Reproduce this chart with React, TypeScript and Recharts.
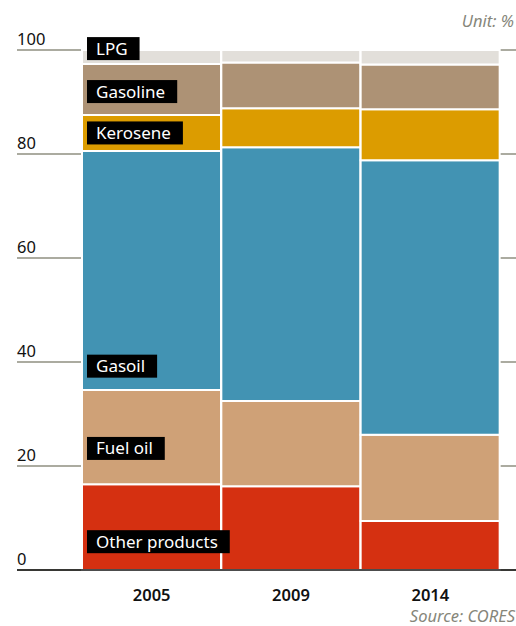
import { Bar, BarChart, CartesianGrid, XAxis, YAxis } from 'recharts';

const YEARS = ['2005', '2009', '2014'];
const OTHER_PRODUCTS = [16.5, 16.1, 9.4];
const FUEL_OIL = [18.1, 16.4, 16.6];
const GASOIL = [46.0, 48.8, 52.8];
const KEROSENE = [6.9, 7.5, 9.8];
const GASOLINE = [9.8, 8.8, 8.6];
const LPG = [2.7, 2.4, 2.8];
const Y_TICKS = [0, 20, 40, 60, 80, 100];

const FONT = "'Noto Sans', sans-serif";
const GREY = '#86867a';
const LEFT = 17;

// bottom to top; labelAt = where the label box centre sits inside the 2005 segment
const SERIES = [
  { key: 'other', name: 'Other products', values: OTHER_PRODUCTS, color: '#d53011', labelAt: 0.67 },
  { key: 'fuel', name: 'Fuel oil', values: FUEL_OIL, color: '#cfa177', labelAt: 0.62 },
  { key: 'gasoil', name: 'Gasoil', values: GASOIL, color: '#4293b3', labelAt: 0.9 },
  { key: 'kerosene', name: 'Kerosene', values: KEROSENE, color: '#dc9c00', labelAt: 0.5 },
  { key: 'gasoline', name: 'Gasoline', values: GASOLINE, color: '#ad9275', labelAt: 0.54 },
  { key: 'lpg', name: 'LPG', values: LPG, color: '#e2dfda', labelAt: -0.1 },
];

const data = YEARS.map((year, i) => {
  const row: Record<string, string | number> = { year };
  SERIES.forEach((s) => {
    row[s.key] = s.values[i];
  });
  return row;
});

let canvas: HTMLCanvasElement | null = null;
function textWidth(text: string, font: string) {
  if (!canvas) canvas = document.createElement('canvas');
  const ctx = canvas.getContext('2d');
  if (!ctx) return text.length * 8;
  ctx.font = font;
  return ctx.measureText(text).width;
}

const makeLabel = (name: string, labelAt: number) => (props: any) => {
  const { x, y, height, index } = props;
  const first = index !== undefined ? index === 0 : Number(x) < 100;
  if (!first) return null;
  const boxH = 23;
  const cy = Number(y) + Number(height) * labelAt;
  const bx = Number(x) + 5;
  const w = textWidth(name, `17px ${FONT}`) + 21;
  return (
    <g>
      <rect x={bx} y={cy - boxH / 2} width={w} height={boxH} fill="#000" />
      <text x={bx + 9} y={cy + boxH / 2 - 5.5} fill="#fff" fontSize={17} fontFamily={FONT}>
        {name}
      </text>
    </g>
  );
};

const YTick = (props: any) => {
  const { y, payload } = props;
  return (
    <text x={LEFT} y={y - 5} textAnchor="start" fill="#111" fontSize={16.5} fontFamily={FONT}>
      {payload.value}
    </text>
  );
};

const XTick = (props: any) => {
  const { x, y, payload } = props;
  return (
    <text x={x} y={y + 23} textAnchor="middle" fill="#111" fontSize={16.5} fontWeight={600} fontFamily={FONT}>
      {payload.value}
    </text>
  );
};

export default function App() {
  return (
    <div style={{ position: 'absolute', left: 0, top: 0, width: 516, height: 626, background: '#fff' }}>
      <BarChart
        width={516}
        height={626}
        data={data}
        barCategoryGap={0}
        margin={{ top: 50, right: 0, bottom: 26, left: LEFT - 1 }}
      >
        <CartesianGrid horizontal vertical={false} stroke="#8f8f80" strokeWidth={1.5} />
        <XAxis
          dataKey="year"
          height={30}
          padding={{ left: 65, right: 16 }}
          axisLine={{ stroke: '#111', strokeWidth: 1.5 }}
          tickLine={false}
          tick={<XTick />}
        />
        <YAxis
          width={1}
          domain={[0, 100]}
          ticks={Y_TICKS}
          axisLine={false}
          tickLine={false}
          tick={<YTick />}
        />
        {SERIES.map((s) => (
          <Bar
            key={s.key}
            dataKey={s.key}
            name={s.name}
            stackId="a"
            fill={s.color}
            stroke="#fff"
            strokeWidth={2}
            isAnimationActive={false}
            label={makeLabel(s.name, s.labelAt)}
          />
        ))}
        <text x={514} y={27} textAnchor="end" fill={GREY} fontSize={16.5} fontStyle="italic" fontFamily={FONT}>
          Unit: %
        </text>
        <text x={515} y={622} textAnchor="end" fill={GREY} fontSize={16.5} fontStyle="italic" fontFamily={FONT}>
          Source: CORES
        </text>
      </BarChart>
    </div>
  );
}
